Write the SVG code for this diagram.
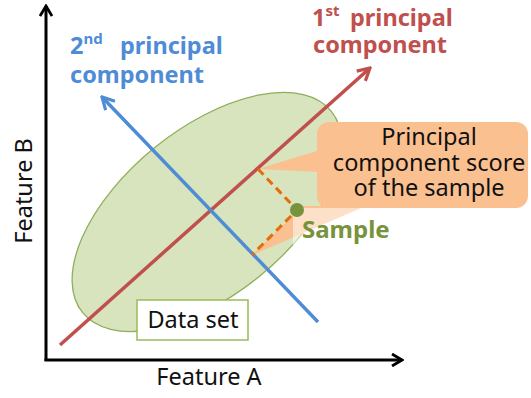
<svg xmlns="http://www.w3.org/2000/svg" width="531" height="398" viewBox="0 0 531 398">
<defs>
<style>
text{font-family:"Noto Sans","Open Sans","Liberation Sans",sans-serif}
.ax{stroke:#000;stroke-width:3;fill:none}
.lbl{font-size:23.5px;fill:#111}
.pc{font-weight:bold;font-size:23.5px}
.peach{fill:#FAC090}
.dash{stroke:#E46C0A;stroke-width:3;stroke-dasharray:8,5;fill:none}
</style>
<marker id="chevK" viewBox="0 0 14 14" refX="12" refY="7" markerWidth="14" markerHeight="14" markerUnits="userSpaceOnUse" orient="auto"><path d="M2,1 L12,7 L2,13" fill="none" stroke="#000" stroke-width="2.8"/></marker>
<marker id="chevR" viewBox="0 0 16 16" refX="14" refY="8" markerWidth="16" markerHeight="16" markerUnits="userSpaceOnUse" orient="auto"><path d="M2,1.5 L14,8 L2,14.5" fill="none" stroke="#C0504D" stroke-width="3.2"/></marker>
<marker id="chevB" viewBox="0 0 16 16" refX="14" refY="8" markerWidth="16" markerHeight="16" markerUnits="userSpaceOnUse" orient="auto"><path d="M2,1.5 L14,8 L2,14.5" fill="none" stroke="#4F8CD6" stroke-width="3.2"/></marker>
</defs>
<g id="dataset">
<ellipse cx="207" cy="212" rx="160" ry="83" transform="rotate(-39 207 212)" fill="#D7E4BD" stroke="#8FAE5A" stroke-width="1.3"/>
</g>
<g id="score-callout">
<polygon class="peach" points="258,169 320,150 320,172"/>
<polygon class="peach" points="252,255 303,206 366,206"/>
<rect class="peach" x="317" y="122" width="211" height="86" rx="12"/>
<text fill="#111" font-size="23.5" text-anchor="middle"><tspan x="429" y="145">Principal</tspan><tspan x="429" y="171">component score</tspan><tspan x="429" y="196">of the sample</tspan></text>
</g>
<g id="sample">
<rect x="293" y="208" width="110" height="40" fill="#fff" opacity="0.5"/>
<text x="302" y="238" font-weight="bold" font-size="24" fill="#77933C">Sample</text>
</g>
<g id="connectors">
<line class="ax" x1="46" y1="361" x2="46" y2="6" marker-end="url(#chevK)"/>
<line class="ax" x1="44.5" y1="360" x2="402" y2="360" marker-end="url(#chevK)"/>
<line x1="60" y1="345" x2="370" y2="68" stroke="#C0504D" stroke-width="3.5" marker-end="url(#chevR)"/>
<line x1="318" y1="322" x2="102" y2="97" stroke="#4F8CD6" stroke-width="3.5" marker-end="url(#chevB)"/>
<polyline class="dash" points="258,169 297,210 252,255"/>
</g>
<g id="sample-point">
<circle cx="297" cy="210" r="7" fill="#77933C"/>
</g>
<g id="datalabel">
<rect x="137" y="300" width="111" height="40" fill="#fff" stroke="#9BBB59" stroke-width="1.5"/>
<text class="lbl" x="193" y="328" text-anchor="middle">Data set</text>
</g>
<g id="axis-labels">
<text class="lbl" x="209" y="385" text-anchor="middle">Feature A</text>
<text class="lbl" transform="translate(32 191) rotate(-90)" text-anchor="middle">Feature B</text>
</g>
<g id="pc-labels">
<text class="pc" fill="#4F8CD6"><tspan x="70" y="54">2</tspan><tspan font-size="15" dy="-10">nd</tspan><tspan x="120" y="54">principal</tspan><tspan x="70" y="83">component</tspan></text>
<text class="pc" fill="#C0504D"><tspan x="312" y="26">1</tspan><tspan font-size="15" dy="-10">st</tspan><tspan x="350" y="26">principal</tspan><tspan x="313" y="53">component</tspan></text>
</g>
</svg>
